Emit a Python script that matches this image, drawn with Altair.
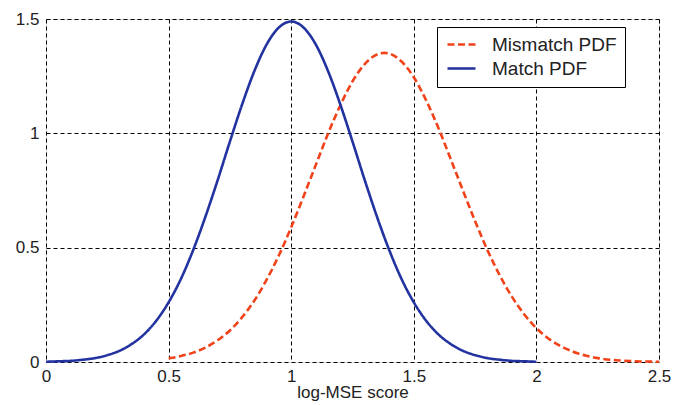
import altair as alt
import pandas as pd

# Match PDF (blue, solid)
match_x = [0.00, 0.05, 0.10, 0.15, 0.20, 0.25, 0.30, 0.35, 0.40, 0.45, 0.50,
           0.55, 0.60, 0.65, 0.70, 0.75, 0.80, 0.85, 0.90, 0.95, 1.00,
           1.05, 1.10, 1.15, 1.20, 1.25, 1.30, 1.35, 1.40, 1.45, 1.50,
           1.55, 1.60, 1.65, 1.70, 1.75, 1.80, 1.85, 1.90, 1.95, 2.00]
match_y = [0.001, 0.003, 0.005, 0.010, 0.017, 0.030, 0.049, 0.079, 0.121, 0.181, 0.261,
           0.363, 0.489, 0.635, 0.795, 0.964, 1.127, 1.273, 1.389, 1.463, 1.489,
           1.463, 1.389, 1.273, 1.127, 0.964, 0.795, 0.635, 0.489, 0.363, 0.261,
           0.181, 0.121, 0.079, 0.049, 0.030, 0.017, 0.010, 0.005, 0.003, 0.001]

# Mismatch PDF (red, dashed)
mismatch_x = [0.50, 0.55, 0.60, 0.65, 0.70, 0.75, 0.80, 0.85, 0.90, 0.95, 1.00,
              1.05, 1.10, 1.15, 1.20, 1.25, 1.30, 1.35, 1.38, 1.40, 1.45, 1.50,
              1.55, 1.60, 1.65, 1.70, 1.75, 1.80, 1.85, 1.90, 1.95, 2.00,
              2.05, 2.10, 2.15, 2.20, 2.25, 2.30, 2.35, 2.40, 2.45, 2.50]
mismatch_y = [0.016, 0.026, 0.041, 0.063, 0.095, 0.138, 0.196, 0.269, 0.360, 0.467, 0.589,
              0.723, 0.861, 0.998, 1.122, 1.227, 1.303, 1.345, 1.352, 1.349, 1.314, 1.245,
              1.145, 1.024, 0.889, 0.751, 0.616, 0.490, 0.380, 0.286, 0.209, 0.148,
              0.102, 0.069, 0.045, 0.028, 0.017, 0.010, 0.006, 0.003, 0.002, 0.001]

series_names = ["Mismatch PDF", "Match PDF"]
series_colors = ["#f2421a", "#2233a0"]
x_ticks = [0, 0.5, 1, 1.5, 2, 2.5]
y_ticks = [0, 0.5, 1, 1.5]

df = pd.concat([
    pd.DataFrame({"x": mismatch_x, "y": mismatch_y, "series": series_names[0]}),
    pd.DataFrame({"x": match_x, "y": match_y, "series": series_names[1]}),
], ignore_index=True)

font = "Liberation Sans"

chart = alt.Chart(df).mark_line(strokeWidth=2.6, interpolate="monotone").encode(
    x=alt.X("x:Q", scale=alt.Scale(domain=[0, 2.5], nice=False),
            axis=alt.Axis(values=x_ticks, title="log-MSE score", format="~g",
                          grid=True, gridColor="#000", gridDash=[4, 3], gridWidth=1,
                          gridOpacity=1, ticks=False, domain=False,
                          labelFont=font, labelFontSize=17, labelColor="#222",
                          labelPadding=6, labelFlush=False,
                          titleFont=font, titleFontSize=17, titleFontWeight="normal",
                          titleColor="#222", titlePadding=0)),
    y=alt.Y("y:Q", scale=alt.Scale(domain=[0, 1.5], nice=False),
            axis=alt.Axis(values=y_ticks, title=None, format="~g",
                          grid=True, gridColor="#000", gridDash=[4, 3], gridWidth=1,
                          gridOpacity=1, ticks=False, domain=False,
                          labelFont=font, labelFontSize=17, labelColor="#222",
                          labelPadding=7, labelFlush=False)),
    color=alt.Color("series:N", scale=alt.Scale(domain=series_names, range=series_colors),
                    legend=alt.Legend(title=None, orient="none", legendX=391, legendY=8,
                                      direction="vertical",
                                      symbolType="M-1,0H3", symbolSize=196,
                                      symbolStrokeWidth=2.6,
                                      labelFont=font, labelFontSize=19, labelColor="#222",
                                      labelOffset=28, rowPadding=4,
                                      strokeColor="#000", fillColor="#fff", padding=8,
                                      labelLimit=300)),
    strokeDash=alt.StrokeDash("series:N",
                              scale=alt.Scale(domain=series_names, range=[[7, 3.5], [1, 0]]),
                              legend=None),
).properties(
    width=613, height=343,
    padding={"left": 46, "top": 19, "right": 14, "bottom": 43},
    autosize=alt.AutoSizeParams(type="none"),
).configure_view(
    stroke="#000", strokeWidth=1.5
).configure(background="white")

chart.save("out.html", embed_options={"renderer": "svg", "actions": False})
